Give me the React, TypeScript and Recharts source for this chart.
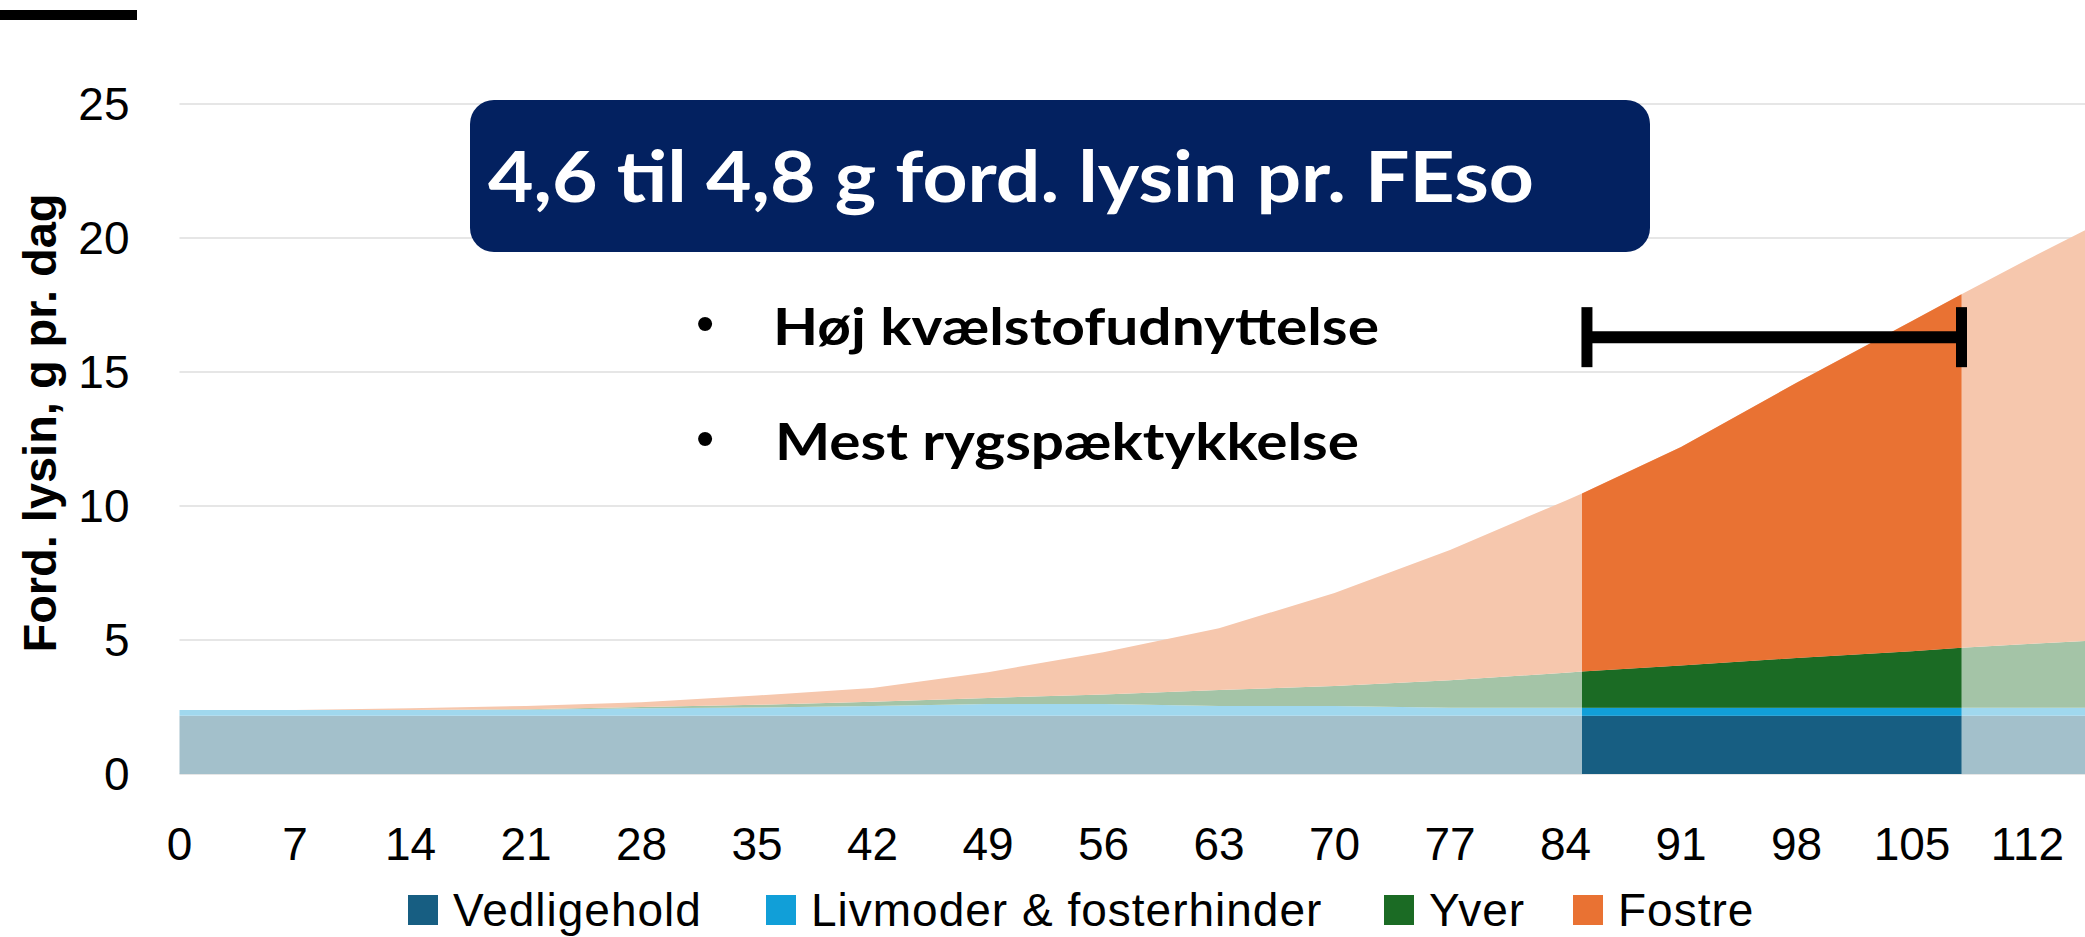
import React from "react";
import { AreaChart, Area, XAxis, YAxis, CartesianGrid, ReferenceLine } from "recharts";

// dag i drægtigheden
const days = [0, 7, 14, 21, 28, 35, 42, 49, 56, 63, 70, 77, 84, 85, 91, 98, 105, 108, 112, 116];
// ford. lysin, g pr. dag
const vedligehold = [2.17, 2.17, 2.17, 2.17, 2.17, 2.17, 2.17, 2.17, 2.17, 2.17, 2.17, 2.17, 2.17, 2.17, 2.17, 2.17, 2.17, 2.17, 2.17, 2.17];
const livmoder = [0.22, 0.22, 0.22, 0.23, 0.28, 0.31, 0.37, 0.44, 0.44, 0.37, 0.37, 0.3, 0.3, 0.3, 0.3, 0.3, 0.3, 0.3, 0.3, 0.3];
const yver = [0, 0, 0, 0.02, 0.05, 0.1, 0.16, 0.23, 0.36, 0.59, 0.74, 1.03, 1.31, 1.35, 1.58, 1.86, 2.11, 2.24, 2.38, 2.51];
const fostre = [0, 0, 0.06, 0.12, 0.18, 0.35, 0.51, 0.96, 1.57, 2.31, 3.47, 4.86, 6.42, 6.65, 8.15, 10.27, 12.32, 13.19, 14.35, 15.47];

const xTicks = [0, 7, 14, 21, 28, 35, 42, 49, 56, 63, 70, 77, 84, 91, 98, 105, 112];
const yTicks = [0, 5, 10, 15, 20, 25];

// perioden der er fremhævet
const periodStart = 85;
const periodEnd = 108;
const barLevel = 16.3;

const series = [
  { key: "Vedligehold", dark: "#175E82", light: "#A3C0CB" },
  { key: "Livmoder & fosterhinder", dark: "#119FD8", light: "#A0D8EE" },
  { key: "Yver", dark: "#1B6B24", light: "#A4C4A7" },
  { key: "Fostre", dark: "#E97233", light: "#F6C7AD" },
];
const legendLeft = [408, 766, 1384, 1573];

const rows = days.map((d, i) => ({
  day: d,
  Vedligehold: vedligehold[i],
  "Livmoder & fosterhinder": livmoder[i],
  Yver: yver[i],
  Fostre: fostre[i],
}));
const highlightRows = rows.filter((r) => r.day >= periodStart && r.day <= periodEnd);

const W = 2100;
const H = 937;
const font = "'Liberation Sans', Arial, sans-serif";
const calib = "Lato, 'Open Sans', sans-serif";

export default function App() {
  return (
    <div style={{ position: "absolute", left: 0, top: 0, width: 2085, height: 937, overflow: "hidden", background: "#fff" }}>
      <div style={{ position: "absolute", left: 0, top: 0 }}>
        <AreaChart width={W} height={H} data={rows} margin={{ top: 104, right: 6.5, bottom: 103, left: 99.5 }}>
          <CartesianGrid vertical={false} stroke="#E6E6E6" strokeWidth={2} />
          <XAxis
            dataKey="day"
            type="number"
            domain={[0, 116]}
            ticks={xTicks}
            interval={0}
            height={60}
            tickSize={0}
            tickMargin={53}
            axisLine={false}
            tick={{ fontSize: 46, fill: "#000", fontFamily: font }}
          />
          <YAxis
            domain={[0, 25]}
            ticks={yTicks}
            width={80}
            tickSize={0}
            tickMargin={50}
            axisLine={false}
            tick={{ fontSize: 46, fill: "#000", fontFamily: font }}
          />
          {series.map((s) => (
            <Area
              key={s.key}
              type="linear"
              dataKey={s.key}
              stackId="a"
              stroke="none"
              fill={s.light}
              fillOpacity={1}
              isAnimationActive={false}
            />
          ))}
        </AreaChart>
      </div>
      <div style={{ position: "absolute", left: 0, top: 0 }}>
        <AreaChart width={W} height={H} data={highlightRows} margin={{ top: 104, right: 6.5, bottom: 163, left: 179.5 }}>
          <XAxis dataKey="day" type="number" domain={[0, 116]} hide />
          <YAxis domain={[0, 25]} hide />
          {series.map((s) => (
            <Area
              key={s.key}
              type="linear"
              dataKey={s.key}
              stackId="b"
              stroke="none"
              fill={s.dark}
              fillOpacity={1}
              isAnimationActive={false}
            />
          ))}
          <ReferenceLine
            segment={[{ x: periodStart + 0.3, y: barLevel }, { x: periodEnd, y: barLevel }]}
            stroke="#000"
            strokeWidth={12}
          />
          <ReferenceLine
            segment={[{ x: periodStart + 0.3, y: barLevel - 1.12 }, { x: periodStart + 0.3, y: barLevel + 1.12 }]}
            stroke="#000"
            strokeWidth={11}
          />
          <ReferenceLine
            segment={[{ x: periodEnd, y: barLevel - 1.12 }, { x: periodEnd, y: barLevel + 1.12 }]}
            stroke="#000"
            strokeWidth={11}
          />
        </AreaChart>
      </div>

      <div style={{ position: "absolute", left: 0, top: 10, width: 137, height: 10, background: "#000" }} />
      <div
        style={{
          position: "absolute",
          left: 470,
          top: 100,
          width: 1180,
          height: 152,
          borderRadius: 24,
          background: "#032160",
        }}
      />
      <svg width={2085} height={937} style={{ position: "absolute", left: 0, top: 0 }}>
        <text
          x={488}
          y={202}
          fill="#fff"
          fontFamily={calib}
          fontWeight={700}
          fontSize={70}
          textLength={1046}
          lengthAdjust="spacingAndGlyphs"
        >
          4,6 til 4,8 g ford. lysin pr. FEso
        </text>
        <text x={705} y={341} textAnchor="middle" fontFamily={font} fontSize={52} fill="#000">•</text>
        <text x={773} y={345} fontFamily={calib} fontWeight={700} fontSize={51} fill="#000" textLength={606} lengthAdjust="spacingAndGlyphs">
          Høj kvælstofudnyttelse
        </text>
        <text x={705} y={456} textAnchor="middle" fontFamily={font} fontSize={52} fill="#000">•</text>
        <text x={775} y={460} fontFamily={calib} fontWeight={700} fontSize={51} fill="#000" textLength={584} lengthAdjust="spacingAndGlyphs">
          Mest rygspæktykkelse
        </text>
        <text
          transform="translate(56,423) rotate(-90)"
          textAnchor="middle"
          fontFamily={font}
          fontWeight={700}
          fontSize={47}
          fill="#000"
          textLength={459}
          lengthAdjust="spacingAndGlyphs"
        >
          Ford. lysin, g pr. dag
        </text>
      </svg>

      {series.map((s, i) => (
        <div
          key={s.key}
          style={{
            position: "absolute",
            left: legendLeft[i],
            top: 887,
            height: 46,
            lineHeight: "46px",
            display: "flex",
            alignItems: "center",
            fontFamily: font,
            fontSize: 46,
            letterSpacing: 1,
            color: "#000",
            whiteSpace: "nowrap",
          }}
        >
          <div style={{ width: 30, height: 30, background: s.dark, marginRight: 15 }} />
          <span>{s.key}</span>
        </div>
      ))}
    </div>
  );
}
